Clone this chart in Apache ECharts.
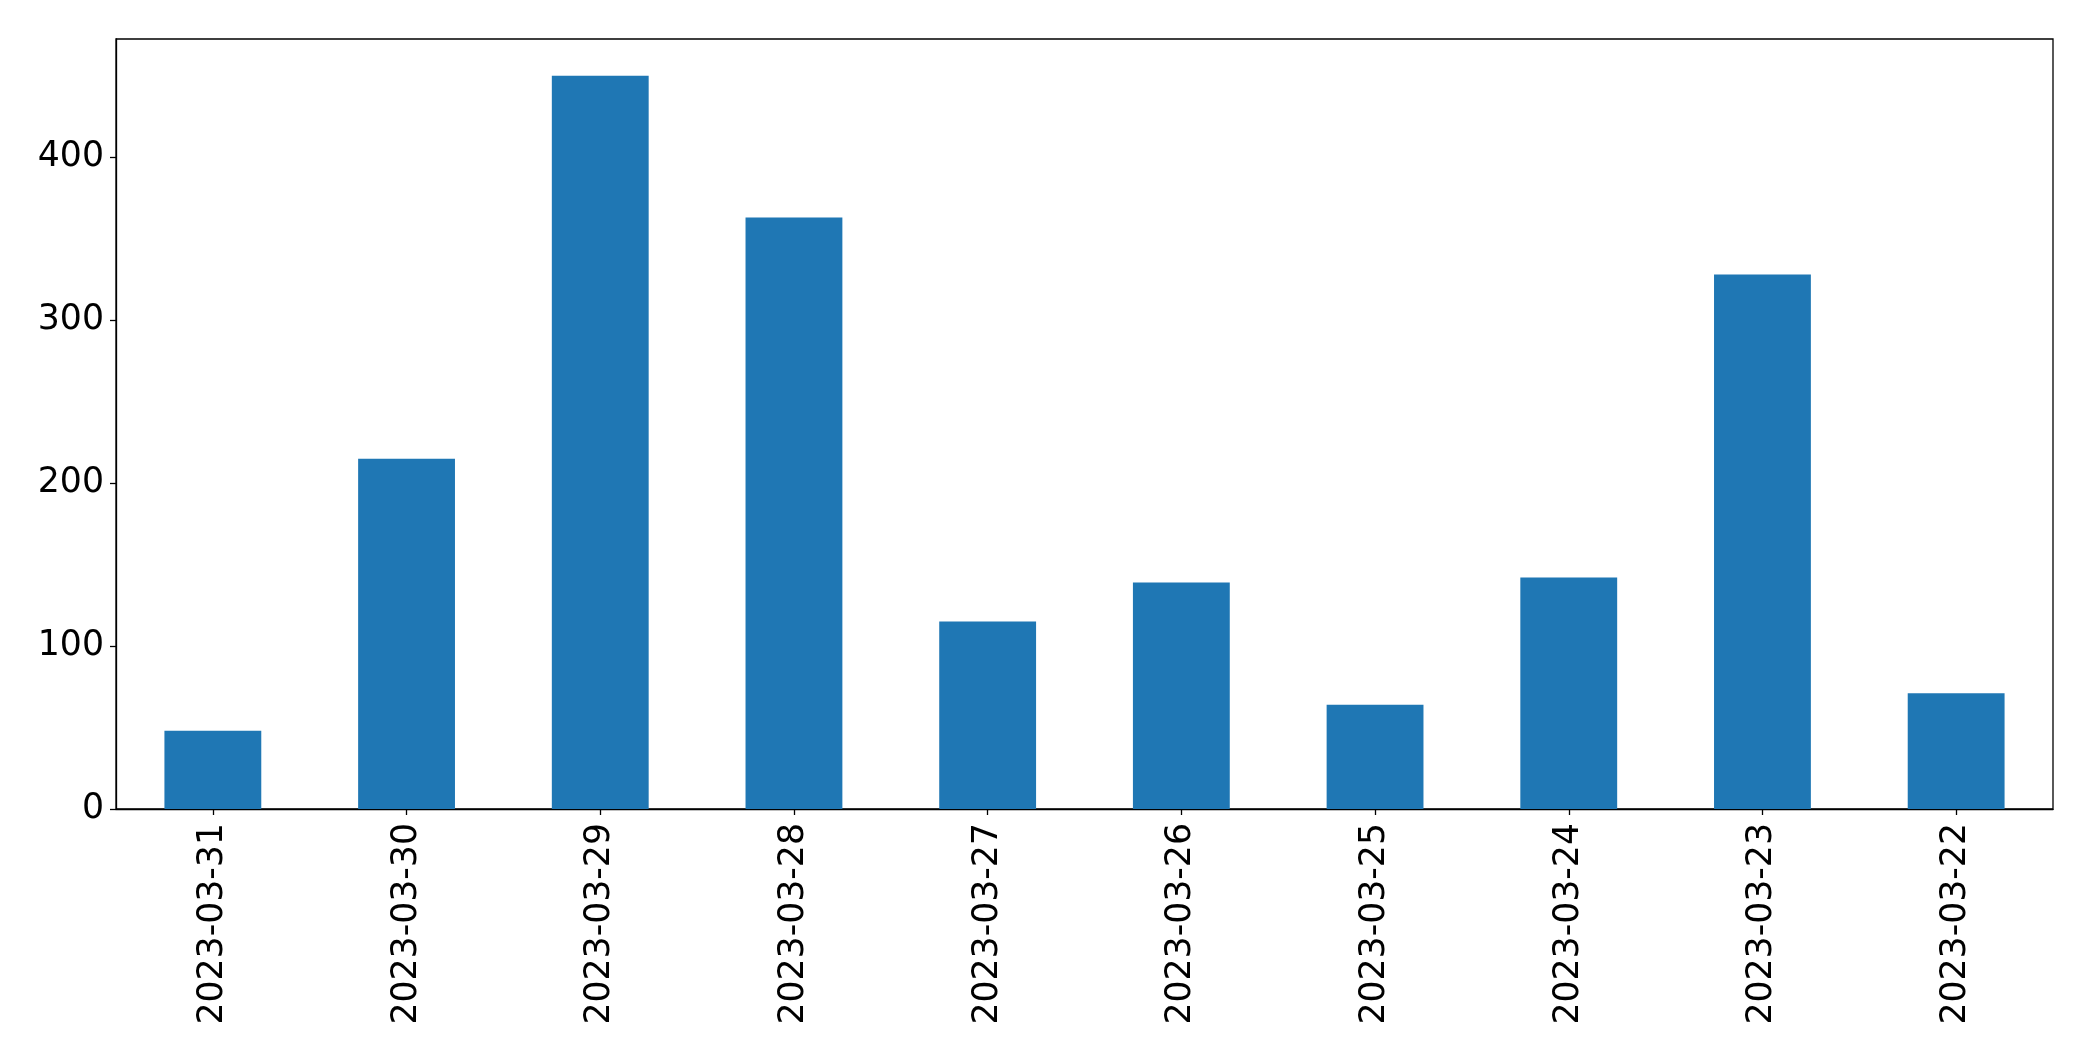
<!DOCTYPE html>
<html>
<head>
<meta charset="utf-8">
<script src="https://cdn.jsdelivr.net/npm/echarts@6/dist/echarts.min.js"></script>
<style>
html,body{margin:0;padding:0;background:#fff;}
#chart{width:2093px;height:1061px;}
</style>
</head>
<body>
<div id="chart"></div>
<script>
const categories = ["2023-03-31","2023-03-30","2023-03-29","2023-03-28","2023-03-27","2023-03-26","2023-03-25","2023-03-24","2023-03-23","2023-03-22"];
const values = [48, 215, 450, 363, 115, 139, 64, 142, 328, 71];
const yTicks = [0, 100, 200, 300, 400];

const chart = echarts.init(document.getElementById('chart'), null, {renderer: 'canvas'});
const font = 'DejaVu Sans';
chart.setOption({
  animation: false,
  backgroundColor: '#ffffff',
  grid: {left: 116, right: 40, top: 39, bottom: 252, show: true, borderColor: '#000', borderWidth: 1.3, backgroundColor: 'transparent'},
  xAxis: {
    type: 'category',
    data: categories,
    axisLine: {show: true, lineStyle: {color: '#000', width: 1.3}},
    axisTick: {show: true, alignWithLabel: true, length: 6, lineStyle: {color: '#000', width: 1.3}},
    axisLabel: {rotate: 90, margin: 14, color: '#000', fontFamily: font, fontSize: 34.7, interval: 0},
    splitLine: {show: false}
  },
  yAxis: {
    type: 'value',
    min: 0,
    max: 472.5,
    interval: 100,
    axisLine: {show: true, lineStyle: {color: '#000', width: 1.3}},
    axisTick: {show: true, length: 6, lineStyle: {color: '#000', width: 1.3}},
    axisLabel: {margin: 12, color: '#000', fontFamily: font, fontSize: 34.7,
      formatter: v => yTicks.includes(v) ? String(v) : '', showMaxLabel: false},
    splitLine: {show: false}
  },
  series: [{
    type: 'bar',
    data: values,
    barWidth: '50%',
    itemStyle: {color: '#1f77b4'}
  }]
});
</script>
</body>
</html>
